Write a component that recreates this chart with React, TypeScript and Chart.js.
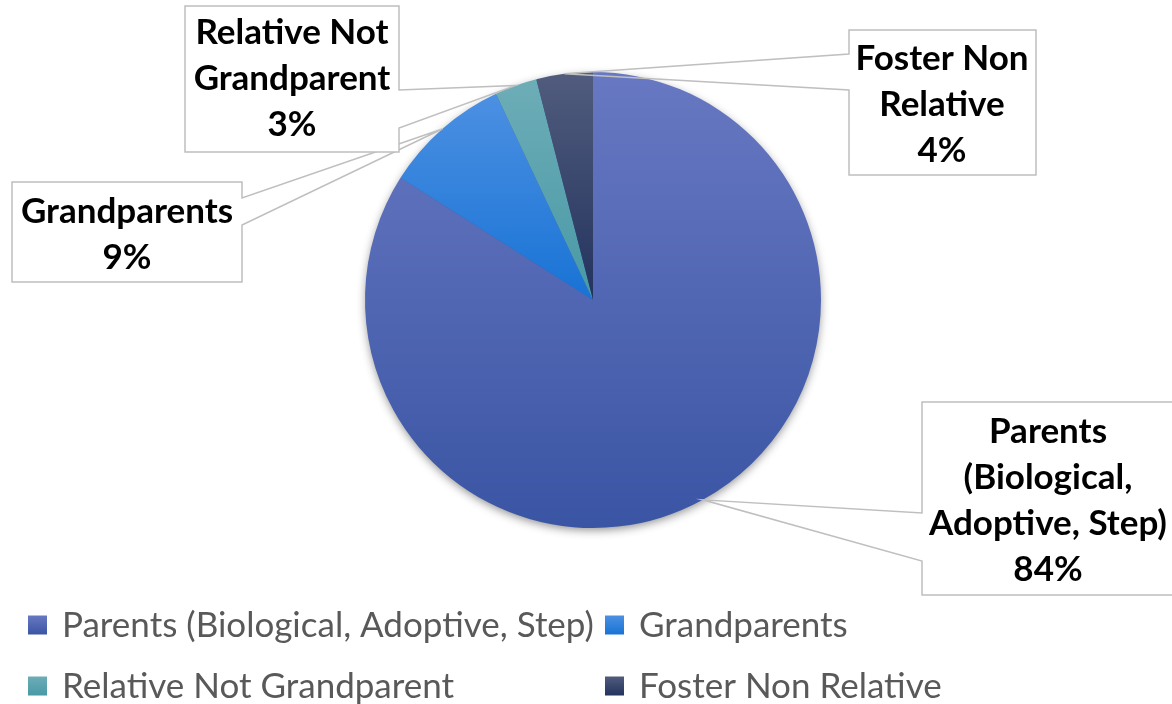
import { useEffect, useRef } from "react";
import { Chart, registerables } from "chart.js";

Chart.register(...registerables);

// ---- data ----
const categories = [
  "Parents (Biological, Adoptive, Step)",
  "Grandparents",
  "Relative Not Grandparent",
  "Foster Non Relative",
];
const values = [84, 9, 3, 4];
const calloutText = [
  ["Parents", "(Biological,", "Adoptive, Step)"],
  ["Grandparents"],
  ["Relative Not", "Grandparent"],
  ["Foster Non", "Relative"],
];
const sliceColors = [
  ["#6878C2", "#3A55A4"],
  ["#4C90E2", "#1873D5"],
  ["#6DADB7", "#4899A6"],
  ["#515C7D", "#23335E"],
];

// ---- layout ----
const boxes = [
  { x0: 922, y0: 402, x1: 1186, y1: 595, side: "left", w1: 513, w2: 561, cx: 1048, ty: 432 },
  { x0: 12, y0: 182, x1: 242, y1: 282, side: "right", w1: 198, w2: 225, cx: 127, ty: 212 },
  { x0: 185, y0: 6, x1: 399, y1: 152, side: "right", w1: 90, w2: 128, cx: 292, ty: 33 },
  { x0: 849, y0: 30, x1: 1036, y1: 175, side: "left", w1: 54, w2: 90, cx: 942, ty: 59 },
];
const legendPos = [
  { x: 28, y: 625 },
  { x: 605, y: 625 },
  { x: 28, y: 686 },
  { x: 605, y: 686 },
];

function total() {
  return values.reduce((a, b) => a + b, 0);
}

function sliceGradient(chart: any, i: number) {
  const area = chart.chartArea;
  if (!area) return sliceColors[i][1];
  const cx = (area.left + area.right) / 2;
  const cy = (area.top + area.bottom) / 2;
  const r = Math.min(area.right - area.left, area.bottom - area.top) / 2;
  const t = total();
  const start = (values.slice(0, i).reduce((a, b) => a + b, 0) / t) * Math.PI * 2;
  const end = start + (values[i] / t) * Math.PI * 2;
  const ys = [cy, cy - r * Math.cos(start), cy - r * Math.cos(end)];
  if (start <= 0.0001) ys.push(cy - r);
  if (start <= Math.PI && end >= Math.PI) ys.push(cy + r);
  if (end >= Math.PI * 2 - 0.0001) ys.push(cy - r);
  const minY = Math.min(...ys);
  const maxY = Math.max(...ys);
  const g = chart.ctx.createLinearGradient(0, minY, 0, maxY);
  g.addColorStop(0, sliceColors[i][0]);
  g.addColorStop(1, sliceColors[i][1]);
  return g;
}

const shadowPlugin = {
  id: "pieShadow",
  beforeDatasetsDraw(chart: any) {
    const meta = chart.getDatasetMeta(0);
    const arc = meta.data[0];
    if (!arc) return;
    const ctx = chart.ctx;
    ctx.save();
    ctx.shadowColor = "rgba(0,0,0,0.45)";
    ctx.shadowBlur = 10;
    ctx.shadowOffsetX = 0;
    ctx.shadowOffsetY = 3;
    ctx.beginPath();
    ctx.arc(arc.x, arc.y, arc.outerRadius - 1, 0, Math.PI * 2);
    ctx.fillStyle = "#3d58a6";
    ctx.fill();
    ctx.restore();
  },
};

const overlayPlugin = {
  id: "overlay",
  afterDraw(chart: any) {
    const ctx = chart.ctx;
    const meta = chart.getDatasetMeta(0);
    const t = total();
    // callouts
    boxes.forEach((b, i) => {
      const arc = meta.data[i];
      if (!arc) return;
      const mid = (arc.startAngle + arc.endAngle) / 2;
      const px = arc.x + Math.cos(mid) * arc.outerRadius;
      const py = arc.y + Math.sin(mid) * arc.outerRadius;
      ctx.save();
      ctx.fillStyle = "#ffffff";
      ctx.fillRect(b.x0, b.y0, b.x1 - b.x0, b.y1 - b.y0);
      ctx.beginPath();
      if (b.side === "left") {
        ctx.moveTo(b.x0, b.y0);
        ctx.lineTo(b.x1, b.y0);
        ctx.lineTo(b.x1, b.y1);
        ctx.lineTo(b.x0, b.y1);
        ctx.lineTo(b.x0, b.w2);
        ctx.lineTo(px, py);
        ctx.lineTo(b.x0, b.w1);
        ctx.closePath();
      } else {
        ctx.moveTo(b.x1, b.y0);
        ctx.lineTo(b.x0, b.y0);
        ctx.lineTo(b.x0, b.y1);
        ctx.lineTo(b.x1, b.y1);
        ctx.lineTo(b.x1, b.w2);
        ctx.lineTo(px, py);
        ctx.lineTo(b.x1, b.w1);
        ctx.closePath();
      }
      ctx.strokeStyle = "#BFBFBF";
      ctx.lineWidth = 1.5;
      ctx.lineJoin = "miter";
      ctx.stroke();
      ctx.fillStyle = "#000000";
      ctx.font = "bold 35px Lato";
      ctx.textAlign = "center";
      ctx.textBaseline = "middle";
      const lines = [...calloutText[i], Math.round((values[i] / t) * 100) + "%"];
      lines.forEach((ln, k) => ctx.fillText(ln, b.cx, b.ty + k * 46));
      ctx.restore();
    });
    // legend
    ctx.save();
    chart.data.labels.forEach((lab: string, i: number) => {
      const p = legendPos[i];
      const s = 19;
      const g = ctx.createLinearGradient(0, p.y - s / 2, 0, p.y + s / 2);
      g.addColorStop(0, sliceColors[i][0]);
      g.addColorStop(1, sliceColors[i][1]);
      ctx.fillStyle = g;
      ctx.fillRect(p.x, p.y - s / 2, s, s);
      ctx.fillStyle = "#595959";
      ctx.font = "35px Lato";
      ctx.textAlign = "left";
      ctx.textBaseline = "middle";
      ctx.fillText(lab, p.x + 34, p.y + 1);
    });
    ctx.restore();
  },
};

export default function App() {
  const ref = useRef<HTMLCanvasElement | null>(null);
  useEffect(() => {
    document.body.style.margin = "0";
    const canvas = ref.current;
    if (!canvas) return;
    const chart = new Chart(canvas, {
      type: "pie",
      data: {
        labels: categories,
        datasets: [
          {
            data: values,
            backgroundColor: (c: any) => sliceGradient(c.chart, c.dataIndex),
            borderWidth: 0,
          },
        ],
      },
      options: {
        responsive: false,
        animation: false,
        events: [],
        layout: { padding: { left: 365, right: 351, top: 72, bottom: 176 } },
        plugins: {
          legend: { display: false },
          tooltip: { enabled: false },
        },
      },
      plugins: [shadowPlugin, overlayPlugin],
    } as any);
    return () => chart.destroy();
  }, []);
  return (
    <div style={{ width: 1172, height: 704, background: "#fff" }}>
      <canvas ref={ref} width={1172} height={704} style={{ display: "block" }} />
    </div>
  );
}
